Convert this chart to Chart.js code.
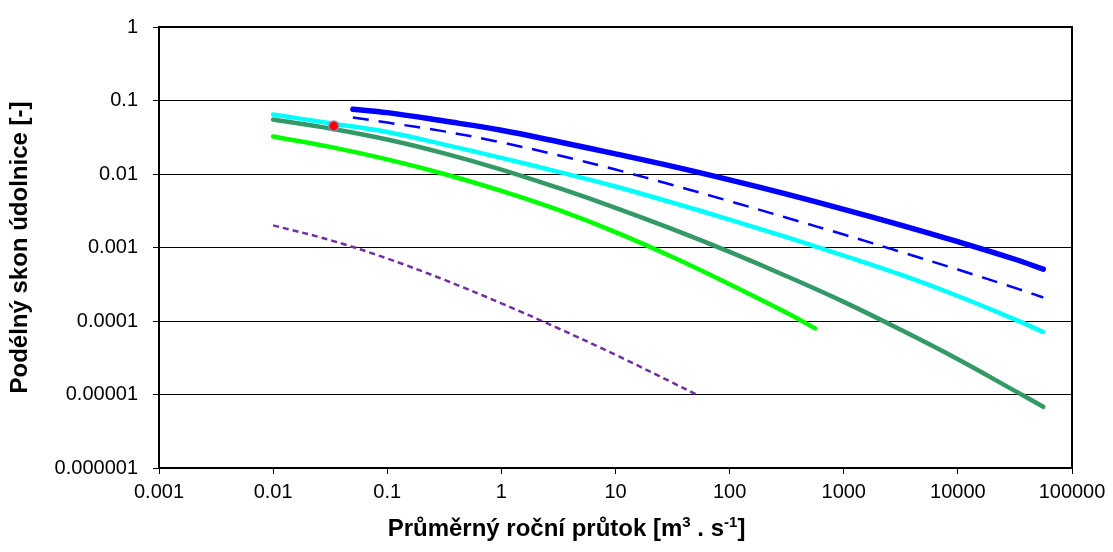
<!DOCTYPE html>
<html>
<head>
<meta charset="utf-8">
<script src="https://cdn.jsdelivr.net/npm/chart.js@4.4.1/dist/chart.umd.min.js"></script>
<style>
  html, body { margin: 0; padding: 0; background: #ffffff; }
  #wrap { width: 1113px; height: 552px; }
</style>
</head>
<body>
<div id="wrap"><canvas id="c" width="1113" height="552"></canvas></div>
<script>
// ---- tick labels ----
const xTickValues = [0.001, 0.01, 0.1, 1, 10, 100, 1000, 10000, 100000];
const xTickLabels = ["0.001", "0.01", "0.1", "1", "10", "100", "1000", "10000", "100000"];
const yTickValues = [0.000001, 0.00001, 0.0001, 0.001, 0.01, 0.1, 1];
const yTickLabels = ["0.000001", "0.00001", "0.0001", "0.001", "0.01", "0.1", "1"];

const yTitle = "Podélný skon údolnice [-]";
const xTitleParts = ["Průměrný roční průtok [m", "3", " . s", "-1", "]"];
const xTitleSup = [false, true, false, true, false];

// ---- series ----
const blueX = [0.05, 0.1, 0.316, 1, 3.16, 10, 31.6, 100, 316, 1000, 3160, 10000, 31600, 56000];
const blueY = [0.0759, 0.0684, 0.0525, 0.0394, 0.0275, 0.0188, 0.0127, 0.00832, 0.00531, 0.00331, 0.00202, 0.0012, 0.000692, 0.000507];

const blueDashX = [0.05, 0.1, 0.316, 1, 3.16, 10, 31.6, 100, 316, 1000, 3160, 10000, 31600, 56000];
const blueDashY = [0.0589, 0.0501, 0.038, 0.0269, 0.018, 0.0115, 0.00708, 0.00427, 0.00254, 0.0015, 0.000871, 0.000501, 0.000282, 0.000209];

const cyanX = [0.01, 0.0316, 0.1, 0.316, 1, 3.16, 10, 31.6, 100, 316, 1000, 3160, 10000, 31600, 56000];
const cyanY = [0.0646, 0.049, 0.0372, 0.0251, 0.0166, 0.0107, 0.00676, 0.00407, 0.0024, 0.00138, 0.000776, 0.000427, 0.000219, 0.000105, 0.0000708];

const darkGreenX = [0.01, 0.0316, 0.1, 0.316, 1, 3.16, 10, 31.6, 100, 316, 1000, 3160, 10000, 31600, 56000];
const darkGreenY = [0.055, 0.0417, 0.0295, 0.0191, 0.0115, 0.00646, 0.00347, 0.00178, 0.000871, 0.000407, 0.000182, 0.0000759, 0.0000302, 0.0000112, 0.0000068];

const lightGreenX = [0.01, 0.0316, 0.1, 0.316, 1, 3.16, 10, 31.6, 100, 316, 562];
const lightGreenY = [0.0324, 0.0234, 0.0158, 0.01, 0.00589, 0.00324, 0.00162, 0.000741, 0.000316, 0.000129, 0.0000794];

const purpleX = [0.01, 0.0316, 0.1, 0.316, 1, 3.16, 10, 31.6, 52.5];
const purpleY = [0.002, 0.00126, 0.000708, 0.000363, 0.000174, 0.0000794, 0.0000347, 0.0000145, 0.0000098];

const pointX = [0.034];
const pointY = [0.045];

const toXY = (xs, ys) => xs.map((x, i) => ({ x: x, y: ys[i] }));

const FONT = '"Liberation Sans", Arial, sans-serif';

const frame = {
  id: 'frame',
  beforeDatasetsDraw(chart) {
    const a = chart.chartArea, ctx = chart.ctx;
    ctx.save();
    ctx.strokeStyle = '#000';
    ctx.lineWidth = 2;
    ctx.strokeRect(a.left, a.top, a.right - a.left, a.bottom - a.top);
    ctx.restore();
  }
};

const xTitlePlugin = {
  id: 'xTitlePlugin',
  afterDraw(chart) {
    const ctx = chart.ctx;
    const big = 'bold 24px ' + FONT;
    const small = 'bold 15px ' + FONT;
    ctx.save();
    const widths = xTitleParts.map((t, i) => { ctx.font = xTitleSup[i] ? small : big; return ctx.measureText(t).width; });
    const total = widths.reduce((a, b) => a + b, 0);
    let x = chart.width / 2 + 10 - total / 2;
    const base = 536;
    ctx.fillStyle = '#000';
    ctx.textBaseline = 'alphabetic';
    ctx.textAlign = 'left';
    xTitleParts.forEach((t, i) => {
      ctx.font = xTitleSup[i] ? small : big;
      ctx.fillText(t, x, xTitleSup[i] ? base - 9 : base);
      x += widths[i];
    });
    ctx.restore();
  }
};

const lineBase = { pointRadius: 0, tension: 0.4, fill: false };

new Chart(document.getElementById('c'), {
  type: 'line',
  data: {
    datasets: [
      Object.assign({ label: 'a', data: toXY(blueX, blueY), borderColor: '#0000FF', borderWidth: 5.5, borderCapStyle: 'round' }, lineBase),
      Object.assign({ label: 'b', data: toXY(blueDashX, blueDashY), borderColor: '#0000FF', borderWidth: 2.5, borderDash: [16, 10] }, lineBase),
      Object.assign({ label: 'c', data: toXY(cyanX, cyanY), borderColor: '#00FFFF', borderWidth: 4.5, borderCapStyle: 'round' }, lineBase),
      Object.assign({ label: 'd', data: toXY(darkGreenX, darkGreenY), borderColor: '#339966', borderWidth: 4.5, borderCapStyle: 'round' }, lineBase),
      Object.assign({ label: 'e', data: toXY(lightGreenX, lightGreenY), borderColor: '#00FF00', borderWidth: 4.5, borderCapStyle: 'round' }, lineBase),
      Object.assign({ label: 'f', data: toXY(purpleX, purpleY), borderColor: '#7030A0', borderWidth: 2.5, borderDash: [6, 4] }, lineBase),
      { label: 'g', data: toXY(pointX, pointY), order: -1, showLine: false, pointRadius: 5, pointBackgroundColor: '#FF0000', pointBorderColor: '#8C8CC0', pointBorderWidth: 1.5 }
    ]
  },
  options: {
    responsive: false,
    devicePixelRatio: 1,
    animation: false,
    events: [],
    layout: { padding: { left: 0, right: 41, top: 24, bottom: 0 } },
    plugins: { legend: { display: false }, tooltip: { enabled: false }, title: { display: false } },
    scales: {
      x: {
        type: 'logarithmic',
        min: 0.001, max: 100000,
        afterBuildTicks: s => { s.ticks = xTickValues.map(v => ({ value: v })); },
        afterFit: s => { s.height = 84; },
        ticks: {
          autoSkip: false, maxRotation: 0, minRotation: 0,
          color: '#000', padding: 6,
          font: { family: FONT, size: 20 },
          callback: (v, i) => xTickLabels[i]
        },
        grid: { drawOnChartArea: false, drawTicks: true, tickLength: 6, color: '#000', lineWidth: 1 },
        border: { color: '#000', width: 2 }
      },
      y: {
        type: 'logarithmic',
        min: 0.000001, max: 1,
        afterBuildTicks: s => { s.ticks = yTickValues.map(v => ({ value: v })); },
        afterFit: s => { s.width = 159; },
        ticks: {
          autoSkip: false,
          color: '#000', padding: 15,
          font: { family: FONT, size: 20 },
          callback: (v, i) => yTickLabels[i]
        },
        grid: { color: '#000', lineWidth: 1, tickLength: 6 },
        border: { color: '#000', width: 2 },
        title: {
          display: true, text: yTitle, color: '#000',
          font: { family: FONT, size: 24, weight: 'bold' },
          padding: { top: 6, bottom: 0 }
        }
      }
    }
  },
  plugins: [frame, xTitlePlugin]
});
</script>
</body>
</html>
